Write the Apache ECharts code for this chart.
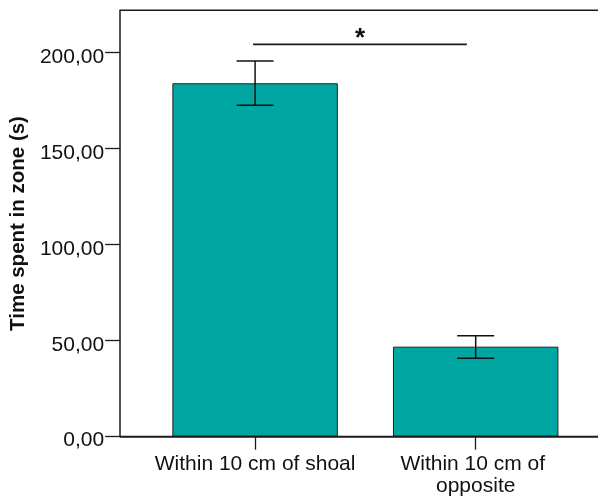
<!DOCTYPE html>
<html>
<head>
<meta charset="utf-8">
<script src="https://cdn.jsdelivr.net/npm/echarts@6/dist/echarts.min.js"></script>
<style>
  html, body { margin: 0; padding: 0; background: #fff; }
  #chart { width: 598px; height: 498px; }
</style>
</head>
<body>
<div id="chart"></div>
<script>
// Zone occupancy data (mean time with error bars)
const categories = ['Within 10 cm of shoal', 'Within 10 cm of opposite'];
const meanTime = [184.1, 46.9];
const upperBound = [195.7, 52.6];
const lowerBound = [172.6, 40.8];
const yTicks = [0, 50, 100, 150, 200];
const yMax = 222.1;
const sigLevel = 204.4;
const sigMark = '*';

const FONT = '"Liberation Sans", Arial, sans-serif';
const TEAL = '#00a6a1';
const INK = '#1a1a1a';

// Layout: the value axis sits to the left of the bar band region
const axisX = 120;
const gridLeft = 144.65;
const gridRight = 12;
const gridTop = 10.3;
const gridBottom = 61.3;

const chart = echarts.init(document.getElementById('chart'), null, { renderer: 'canvas' });

const fmt = v => v.toFixed(2).replace('.', ',');

chart.setOption({
  animation: false,
  backgroundColor: '#fff',
  grid: { left: gridLeft, right: gridRight, top: gridTop, bottom: gridBottom, containLabel: false },
  xAxis: {
    type: 'category',
    data: categories,
    axisLine: { show: false },
    axisTick: { show: true, alignWithLabel: true, length: 13, lineStyle: { color: INK, width: 1.3 } },
    axisLabel: {
      color: '#111', fontFamily: FONT, fontSize: 21, lineHeight: 22,
      margin: 17, width: 212, overflow: 'break', interval: 0
    }
  },
  yAxis: {
    type: 'value',
    min: 0,
    max: yMax,
    offset: gridLeft - axisX,
    name: 'Time spent in zone (s)',
    nameLocation: 'middle',
    nameGap: 82,
    nameTextStyle: { fontFamily: FONT, fontSize: 20.5, fontWeight: 'bold', color: '#111' },
    splitLine: { show: false },
    axisLine: { show: true, lineStyle: { color: INK, width: 1.5 } },
    axisTick: { show: true, length: 15, customValues: yTicks, lineStyle: { color: INK, width: 1.3 } },
    axisLabel: {
      customValues: yTicks,
      formatter: fmt,
      color: '#111', fontFamily: FONT, fontSize: 21, margin: 16,
      verticalAlign: 'top', lineHeight: 8
    }
  },
  series: [
    {
      type: 'bar',
      data: meanTime,
      barWidth: '75%',
      itemStyle: { color: TEAL, borderColor: '#222', borderWidth: 1 },
      z: 2
    },
    {
      type: 'custom',
      data: categories.map((c, i) => [i, lowerBound[i], upperBound[i]]),
      z: 5,
      renderItem: function (params, api) {
        const hi = api.coord([api.value(0), api.value(2)]);
        const lo = api.coord([api.value(0), api.value(1)]);
        const half = 18.5;
        const style = { stroke: '#111', lineWidth: 1.5 };
        return {
          type: 'group',
          children: [
            { type: 'line', shape: { x1: hi[0], y1: hi[1], x2: lo[0], y2: lo[1] }, style },
            { type: 'line', shape: { x1: hi[0] - half, y1: hi[1], x2: hi[0] + half, y2: hi[1] }, style },
            { type: 'line', shape: { x1: lo[0] - half, y1: lo[1], x2: lo[0] + half, y2: lo[1] }, style }
          ]
        };
      }
    }
  ]
});

// Frame lines and significance annotation, placed through the axes' own scales
const p0 = chart.convertToPixel({ xAxisIndex: 0, yAxisIndex: 0 }, [categories[0], sigLevel]);
const p1 = chart.convertToPixel({ xAxisIndex: 0, yAxisIndex: 0 }, [categories[1], sigLevel]);
const yZero = chart.convertToPixel({ yAxisIndex: 0 }, 0);
const yTop = chart.convertToPixel({ yAxisIndex: 0 }, yMax);
const band = p1[0] - p0[0];
const sx1 = p0[0] - 2;
const sx2 = p1[0] - 0.04 * band;
const W = chart.getWidth();

chart.setOption({
  graphic: [
    { type: 'line', z: 10, shape: { x1: axisX, y1: yTop, x2: W, y2: yTop }, style: { stroke: INK, lineWidth: 1.5 } },
    { type: 'line', z: 10, shape: { x1: axisX, y1: yZero, x2: W, y2: yZero }, style: { stroke: INK, lineWidth: 2 } },
    { type: 'line', z: 10, shape: { x1: sx1, y1: p0[1], x2: sx2, y2: p0[1] }, style: { stroke: INK, lineWidth: 1.8 } },
    {
      type: 'text', z: 10,
      x: (sx1 + sx2) / 2, y: p0[1] + 8,
      style: {
        text: sigMark, font: 'bold 26px ' + FONT, fill: '#111',
        textAlign: 'center', textVerticalAlign: 'bottom'
      }
    }
  ]
});
</script>
</body>
</html>
